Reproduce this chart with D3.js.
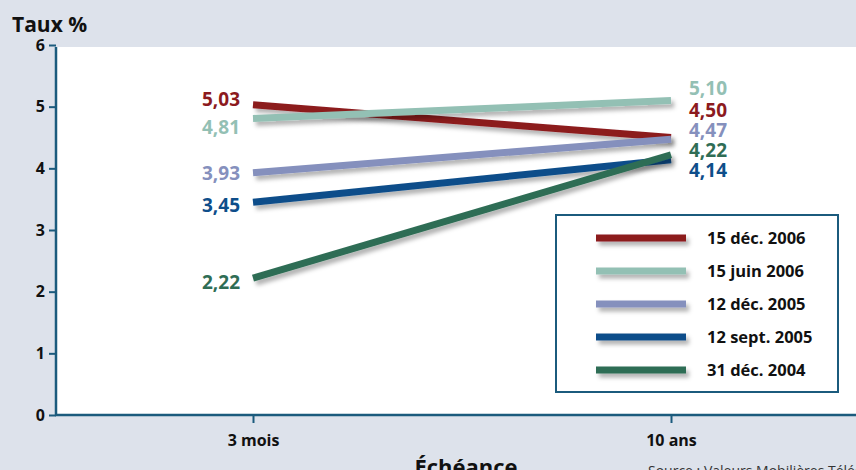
<!DOCTYPE html>
<html><head><meta charset="utf-8">
<script src="https://cdn.jsdelivr.net/npm/d3@7"></script>
<style>
html,body{margin:0;padding:0;background:#dde2eb;}
svg{display:block;font-family:"Open Sans",sans-serif;}
</style></head><body>
<svg id="chart" width="856" height="470"></svg>
<script>
const maturities = ["3 mois", "10 ans"];
const seriesNames = ["15 déc. 2006", "15 juin 2006", "12 déc. 2005", "12 sept. 2005", "31 déc. 2004"];
const values3m = [5.03, 4.81, 3.93, 3.45, 2.22];
const values10y = [4.50, 5.10, 4.47, 4.14, 4.22];
const yTicks = [0, 1, 2, 3, 4, 5, 6];
const colors = ["#8c1a1e", "#93c0b4", "#8590bd", "#0e4e8a", "#2f6d55"];

const fmt = v => d3.format(".2f")(v).replace(".", ",");
const svg = d3.select("#chart");
const axisColor = "#1b5b7d";

const defs = svg.append("defs");
const f = defs.append("filter").attr("id", "shadow").attr("filterUnits", "userSpaceOnUse")
  .attr("x", 0).attr("y", 0).attr("width", 856).attr("height", 470);
f.append("feDropShadow").attr("dx", 3).attr("dy", 4).attr("stdDeviation", 2).attr("flood-color", "#000").attr("flood-opacity", 0.3);

const x = d3.scalePoint().domain(maturities).range([253, 671]);
const y = d3.scaleLinear().domain([0, 6]).range([415, 45]);

// plot area
svg.append("rect").attr("x", 56).attr("y", 47).attr("width", 800).attr("height", 368).attr("fill", "#fff");

// y axis
const ya = svg.append("g").attr("transform", "translate(56,0)")
  .call(d3.axisLeft(y).tickValues(yTicks).tickSize(7).tickSizeOuter(0).tickFormat(d3.format("d")));
ya.select(".domain").attr("stroke", axisColor).attr("stroke-width", 2.5).attr("d", `M0,${y(0)}V47`);
ya.selectAll(".tick line").attr("stroke", axisColor).attr("stroke-width", 2);
ya.selectAll(".tick text").attr("fill", "#111").attr("font-size", 16).attr("font-weight", "bold").attr("x", -11)
  .attr("font-family", "'Open Sans',sans-serif");

// x axis
const xa = svg.append("g").attr("transform", `translate(0,${y(0)})`)
  .call(d3.axisBottom(x).tickSize(8).tickSizeOuter(0));
xa.select(".domain").attr("stroke", axisColor).attr("stroke-width", 2.5).attr("d", "M55,0H856");
xa.selectAll(".tick line").attr("stroke", axisColor).attr("stroke-width", 2);
xa.selectAll(".tick text").attr("fill", "#111").attr("font-size", 16).attr("font-weight", "bold").attr("y", 20)
  .attr("font-family", "'Open Sans',sans-serif");

// lines
const lineGen = d3.line().x(d => x(d.m)).y(d => y(d.v));
seriesNames.forEach((s, i) => {
  svg.append("path")
    .datum([{m: maturities[0], v: values3m[i]}, {m: maturities[1], v: values10y[i]}])
    .attr("d", lineGen).attr("fill", "none").attr("stroke", colors[i]).attr("stroke-width", 7)
    .attr("filter", "url(#shadow)");
});

// value labels (nudged to avoid overlap)
const leftNudge = [-5, 9, 1, 3, 4];
const rightNudge = [-27, -12, -9, 11, -4];
seriesNames.forEach((s, i) => {
  svg.append("text").attr("x", 240).attr("y", y(values3m[i]) + leftNudge[i]).attr("dy", "0.35em")
    .attr("text-anchor", "end").attr("font-size", 19).attr("font-weight", "bold").attr("fill", colors[i])
    .text(fmt(values3m[i]));
  svg.append("text").attr("x", 689).attr("y", y(values10y[i]) + rightNudge[i]).attr("dy", "0.35em")
    .attr("text-anchor", "start").attr("font-size", 19).attr("font-weight", "bold").attr("fill", colors[i])
    .text(fmt(values10y[i]));
});

// legend
const lg = svg.append("g");
lg.append("rect").attr("x", 556).attr("y", 215).attr("width", 282).attr("height", 177)
  .attr("fill", "#fff").attr("stroke", axisColor).attr("stroke-width", 2);
seriesNames.forEach((s, i) => {
  const ly = 238 + i * 33;
  lg.append("rect").attr("x", 596).attr("width", 90).attr("y", ly - 3.5).attr("height", 7)
    .attr("fill", colors[i]).attr("filter", "url(#shadow)");
  lg.append("text").attr("x", 707).attr("y", ly).attr("dy", "0.35em").attr("font-size", 16.5)
    .attr("font-weight", "bold").attr("fill", "#111").text(s);
});

// titles
svg.append("text").attr("x", 12).attr("y", 32).attr("font-size", 21).attr("font-weight", "bold").attr("fill", "#111").text("Taux %");
svg.append("text").attr("x", 466).attr("y", 475).attr("text-anchor", "middle").attr("font-size", 22).attr("font-weight", "bold").attr("fill", "#111").text("Échéance");
svg.append("text").attr("x", 648).attr("y", 476).attr("font-size", 14).attr("fill", "#333").text("Source : Valeurs Mobilières Télégraphe");
</script>
</body></html>
